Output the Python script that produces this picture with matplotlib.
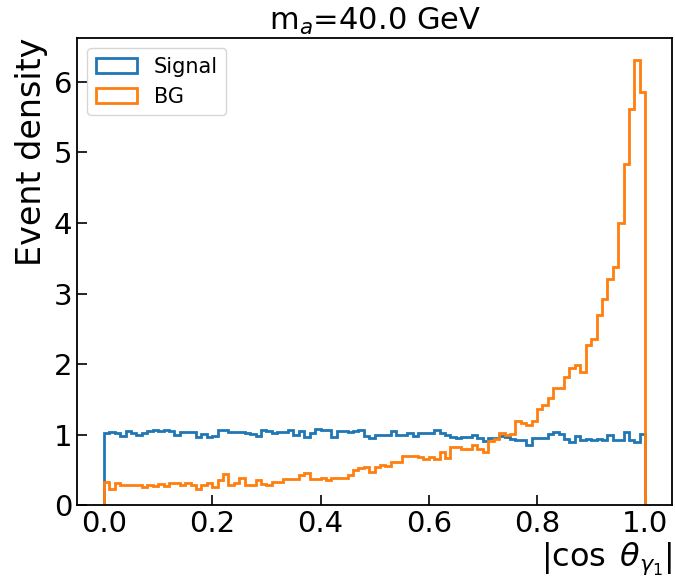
import matplotlib.pyplot as plt
import numpy as np

# ======================================================
# Histogram contents (normalised, 100 bins on [0, 1])
# ======================================================

bin_edges = np.linspace(0.0, 1.0, 101)

signal = [
    1.03, 1.04, 1.03, 0.98, 1.05, 1.02, 1.00, 1.03, 1.05, 1.06,
    1.05, 1.06, 1.05, 0.99, 1.04, 1.04, 1.04, 0.97, 1.01, 0.97,
    0.98, 1.06, 1.06, 1.04, 1.04, 1.04, 1.03, 1.01, 0.98, 1.06,
    1.05, 1.02, 1.04, 1.04, 1.06, 0.99, 1.05, 0.97, 1.03, 1.08,
    1.07, 1.07, 0.96, 1.05, 1.05, 1.04, 1.05, 1.07, 0.98, 0.95,
    1.00, 1.00, 1.00, 1.05, 1.00, 1.00, 1.02, 0.98, 1.02, 1.02,
    1.03, 1.06, 1.02, 1.00, 0.96, 0.95, 0.96, 0.97, 1.00, 0.95,
    0.91, 0.95, 0.95, 0.98, 0.97, 0.94, 0.93, 0.93, 0.86, 0.95,
    0.95, 0.95, 1.01, 1.04, 1.01, 0.94, 0.90, 0.98, 0.92, 0.94,
    0.92, 0.94, 0.92, 1.00, 0.92, 0.92, 1.04, 0.93, 0.90, 1.01,
]

background = [
    0.33, 0.23, 0.31, 0.28, 0.29, 0.29, 0.29, 0.26, 0.29, 0.27,
    0.30, 0.27, 0.32, 0.32, 0.28, 0.32, 0.28, 0.23, 0.29, 0.31,
    0.26, 0.36, 0.44, 0.29, 0.31, 0.38, 0.28, 0.28, 0.36, 0.30,
    0.28, 0.33, 0.33, 0.37, 0.37, 0.37, 0.43, 0.45, 0.37, 0.37,
    0.38, 0.35, 0.39, 0.39, 0.38, 0.43, 0.50, 0.53, 0.54, 0.47,
    0.54, 0.57, 0.56, 0.61, 0.61, 0.70, 0.70, 0.70, 0.68, 0.66,
    0.68, 0.66, 0.76, 0.67, 0.83, 0.83, 0.80, 0.80, 0.85, 0.80,
    0.76, 0.91, 0.94, 1.02, 1.00, 1.01, 1.20, 1.17, 1.13, 1.20,
    1.37, 1.42, 1.52, 1.66, 1.66, 1.82, 1.95, 1.99, 1.89, 2.27,
    2.36, 2.69, 2.92, 3.20, 3.37, 4.00, 4.83, 5.62, 6.31, 5.86,
]

# ======================================================
# Plot
# ======================================================

centres = 0.5 * (bin_edges[1:] + bin_edges[:-1])

fig = plt.figure(figsize=(6.75, 5.82), dpi=100)
ax = fig.add_axes([0.114, 0.132, 0.882, 0.803])

ax.hist(centres, bins=bin_edges, weights=signal, histtype="step",
        color="tab:blue", linewidth=2, label="Signal")
ax.hist(centres, bins=bin_edges, weights=background, histtype="step",
        color="tab:orange", linewidth=2, label="BG")

ax.set_title(r"m$_a$=40.0 GeV", fontsize=22)
ax.set_xlabel(r"$|\cos\;\theta_{\gamma_1}|$", fontsize=23, loc="right",
              labelpad=2)
ax.set_ylabel("Event density", fontsize=24, loc="top")

ax.tick_params(direction="in", length=7, width=1.2, labelsize=21)
for s in ax.spines.values():
    s.set_linewidth(1.3)

ax.legend(loc="upper left", fontsize=15)

fig.savefig("out.png")
